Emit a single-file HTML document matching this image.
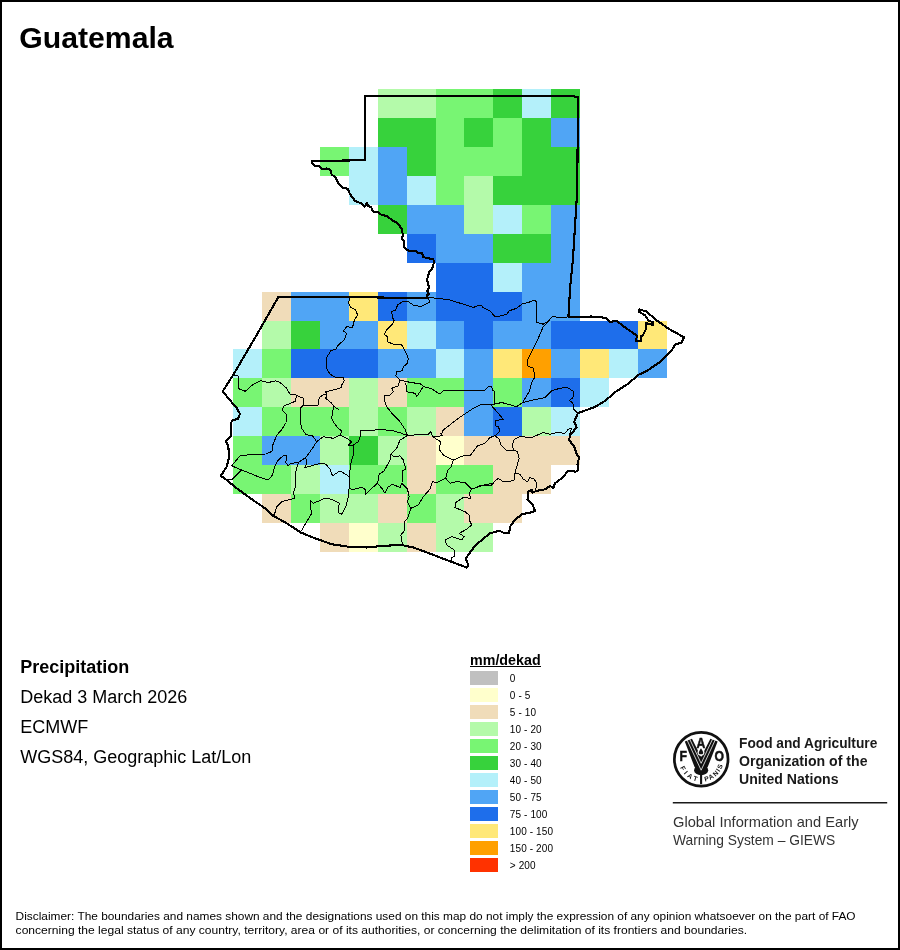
<!DOCTYPE html>
<html lang="en">
<head>
<meta charset="utf-8">
<title>Guatemala - Precipitation</title>
<style>
html,body{margin:0;padding:0;background:#fff;}
body{width:900px;height:950px;overflow:hidden;position:relative;font-family:"Liberation Sans",sans-serif;}
#frame{position:absolute;left:0;top:0;width:896px;height:946px;border:2px solid #000;}
svg{position:absolute;left:0;top:0;}
text{font-family:"Liberation Sans",sans-serif;}
</style>
</head>
<body>
<svg width="900" height="950" viewBox="0 0 900 950">
<g shape-rendering="crispEdges">
<rect x="378" y="89" width="58" height="29" fill="#B4FAAA"/>
<rect x="436" y="89" width="57" height="29" fill="#78F573"/>
<rect x="493" y="89" width="29" height="29" fill="#37D23C"/>
<rect x="522" y="89" width="29" height="29" fill="#B4F0FA"/>
<rect x="551" y="89" width="29" height="29" fill="#37D23C"/>
<rect x="378" y="118" width="58" height="29" fill="#37D23C"/>
<rect x="436" y="118" width="28" height="29" fill="#78F573"/>
<rect x="464" y="118" width="29" height="29" fill="#37D23C"/>
<rect x="493" y="118" width="29" height="29" fill="#78F573"/>
<rect x="522" y="118" width="29" height="29" fill="#37D23C"/>
<rect x="551" y="118" width="29" height="29" fill="#50A5F5"/>
<rect x="320" y="147" width="29" height="29" fill="#78F573"/>
<rect x="349" y="147" width="29" height="29" fill="#B4F0FA"/>
<rect x="378" y="147" width="29" height="29" fill="#50A5F5"/>
<rect x="407" y="147" width="29" height="29" fill="#37D23C"/>
<rect x="436" y="147" width="86" height="29" fill="#78F573"/>
<rect x="522" y="147" width="58" height="29" fill="#37D23C"/>
<rect x="349" y="176" width="29" height="29" fill="#B4F0FA"/>
<rect x="378" y="176" width="29" height="29" fill="#50A5F5"/>
<rect x="407" y="176" width="29" height="29" fill="#B4F0FA"/>
<rect x="436" y="176" width="28" height="29" fill="#78F573"/>
<rect x="464" y="176" width="29" height="29" fill="#B4FAAA"/>
<rect x="493" y="176" width="87" height="29" fill="#37D23C"/>
<rect x="378" y="205" width="29" height="29" fill="#37D23C"/>
<rect x="407" y="205" width="57" height="29" fill="#50A5F5"/>
<rect x="464" y="205" width="29" height="29" fill="#B4FAAA"/>
<rect x="493" y="205" width="29" height="29" fill="#B4F0FA"/>
<rect x="522" y="205" width="29" height="29" fill="#78F573"/>
<rect x="551" y="205" width="29" height="29" fill="#50A5F5"/>
<rect x="407" y="234" width="29" height="29" fill="#1E6EEB"/>
<rect x="436" y="234" width="57" height="29" fill="#50A5F5"/>
<rect x="493" y="234" width="58" height="29" fill="#37D23C"/>
<rect x="551" y="234" width="29" height="29" fill="#50A5F5"/>
<rect x="436" y="263" width="57" height="29" fill="#1E6EEB"/>
<rect x="493" y="263" width="29" height="29" fill="#B4F0FA"/>
<rect x="522" y="263" width="58" height="29" fill="#50A5F5"/>
<rect x="262" y="292" width="29" height="29" fill="#F0DCB9"/>
<rect x="291" y="292" width="58" height="29" fill="#50A5F5"/>
<rect x="349" y="292" width="29" height="29" fill="#FFE878"/>
<rect x="378" y="292" width="29" height="29" fill="#1E6EEB"/>
<rect x="407" y="292" width="29" height="29" fill="#50A5F5"/>
<rect x="436" y="292" width="86" height="29" fill="#1E6EEB"/>
<rect x="522" y="292" width="58" height="29" fill="#50A5F5"/>
<rect x="262" y="321" width="29" height="28" fill="#B4FAAA"/>
<rect x="291" y="321" width="29" height="28" fill="#37D23C"/>
<rect x="320" y="321" width="58" height="28" fill="#50A5F5"/>
<rect x="378" y="321" width="29" height="28" fill="#FFE878"/>
<rect x="407" y="321" width="29" height="28" fill="#B4F0FA"/>
<rect x="436" y="321" width="28" height="28" fill="#50A5F5"/>
<rect x="464" y="321" width="29" height="28" fill="#1E6EEB"/>
<rect x="493" y="321" width="58" height="28" fill="#50A5F5"/>
<rect x="551" y="321" width="87" height="28" fill="#1E6EEB"/>
<rect x="638" y="321" width="29" height="28" fill="#FFE878"/>
<rect x="233" y="349" width="29" height="29" fill="#B4F0FA"/>
<rect x="262" y="349" width="29" height="29" fill="#78F573"/>
<rect x="291" y="349" width="87" height="29" fill="#1E6EEB"/>
<rect x="378" y="349" width="58" height="29" fill="#50A5F5"/>
<rect x="436" y="349" width="28" height="29" fill="#B4F0FA"/>
<rect x="464" y="349" width="29" height="29" fill="#50A5F5"/>
<rect x="493" y="349" width="29" height="29" fill="#FFE878"/>
<rect x="522" y="349" width="29" height="29" fill="#FFA000"/>
<rect x="551" y="349" width="29" height="29" fill="#50A5F5"/>
<rect x="580" y="349" width="29" height="29" fill="#FFE878"/>
<rect x="609" y="349" width="29" height="29" fill="#B4F0FA"/>
<rect x="638" y="349" width="29" height="29" fill="#50A5F5"/>
<rect x="233" y="378" width="29" height="29" fill="#78F573"/>
<rect x="262" y="378" width="29" height="29" fill="#B4FAAA"/>
<rect x="291" y="378" width="58" height="29" fill="#F0DCB9"/>
<rect x="349" y="378" width="29" height="29" fill="#B4FAAA"/>
<rect x="378" y="378" width="29" height="29" fill="#F0DCB9"/>
<rect x="407" y="378" width="57" height="29" fill="#78F573"/>
<rect x="464" y="378" width="29" height="29" fill="#50A5F5"/>
<rect x="493" y="378" width="29" height="29" fill="#78F573"/>
<rect x="522" y="378" width="29" height="29" fill="#50A5F5"/>
<rect x="551" y="378" width="29" height="29" fill="#1E6EEB"/>
<rect x="580" y="378" width="29" height="29" fill="#B4F0FA"/>
<rect x="233" y="407" width="29" height="29" fill="#B4F0FA"/>
<rect x="262" y="407" width="87" height="29" fill="#78F573"/>
<rect x="349" y="407" width="29" height="29" fill="#B4FAAA"/>
<rect x="378" y="407" width="29" height="29" fill="#78F573"/>
<rect x="407" y="407" width="29" height="29" fill="#B4FAAA"/>
<rect x="436" y="407" width="28" height="29" fill="#F0DCB9"/>
<rect x="464" y="407" width="29" height="29" fill="#50A5F5"/>
<rect x="493" y="407" width="29" height="29" fill="#1E6EEB"/>
<rect x="522" y="407" width="29" height="29" fill="#B4FAAA"/>
<rect x="551" y="407" width="29" height="29" fill="#B4F0FA"/>
<rect x="233" y="436" width="29" height="29" fill="#78F573"/>
<rect x="262" y="436" width="58" height="29" fill="#50A5F5"/>
<rect x="320" y="436" width="29" height="29" fill="#B4FAAA"/>
<rect x="349" y="436" width="29" height="29" fill="#37D23C"/>
<rect x="378" y="436" width="29" height="29" fill="#B4FAAA"/>
<rect x="407" y="436" width="29" height="29" fill="#F0DCB9"/>
<rect x="436" y="436" width="28" height="29" fill="#FFFFCC"/>
<rect x="464" y="436" width="116" height="29" fill="#F0DCB9"/>
<rect x="233" y="465" width="58" height="29" fill="#78F573"/>
<rect x="291" y="465" width="29" height="29" fill="#B4FAAA"/>
<rect x="320" y="465" width="29" height="29" fill="#B4F0FA"/>
<rect x="349" y="465" width="58" height="29" fill="#78F573"/>
<rect x="407" y="465" width="29" height="29" fill="#F0DCB9"/>
<rect x="436" y="465" width="57" height="29" fill="#78F573"/>
<rect x="493" y="465" width="58" height="29" fill="#F0DCB9"/>
<rect x="262" y="494" width="29" height="29" fill="#F0DCB9"/>
<rect x="291" y="494" width="29" height="29" fill="#78F573"/>
<rect x="320" y="494" width="58" height="29" fill="#B4FAAA"/>
<rect x="378" y="494" width="29" height="29" fill="#F0DCB9"/>
<rect x="407" y="494" width="29" height="29" fill="#78F573"/>
<rect x="436" y="494" width="28" height="29" fill="#B4FAAA"/>
<rect x="464" y="494" width="58" height="29" fill="#F0DCB9"/>
<rect x="320" y="523" width="29" height="29" fill="#F0DCB9"/>
<rect x="349" y="523" width="29" height="29" fill="#FFFFCC"/>
<rect x="378" y="523" width="29" height="29" fill="#B4FAAA"/>
<rect x="407" y="523" width="29" height="29" fill="#F0DCB9"/>
<rect x="436" y="523" width="57" height="29" fill="#B4FAAA"/>
</g>
<g fill="none" stroke="#000" stroke-width="1" stroke-linejoin="round" stroke-linecap="round" shape-rendering="crispEdges">
<polyline points="427.5,297.5 438.3,298.3 450,300 463.3,304.2 473.3,307.5 477.5,305.8 481.7,305 482.5,307.5 490,310.8 495,316.7 501.7,315.8 506.7,314.2 509.2,310.8 516.7,308.3 521.7,304.2 528.3,302.5 534.2,300 536.7,301.7 536.7,322.5 543.3,324.2 548.5,321 552.4,316.5 560,317.5 568.4,316.9"/>
<polyline points="548.5,321 543.3,326.7 536.7,341.7 531.7,351.7 527.5,360 527.5,365.8 533.3,368.3 535,376.7 531.7,382.5 529.2,391.7 522.5,402.5 516.7,406.7"/>
<polyline points="522.5,402.5 533.3,400 545,397.5 551.6,390.7 557.8,388.9 566.7,387.1 573.8,391.6 572.9,397.8 569.3,400.4 572.9,403.1 573.8,409.3 577.3,412.9"/>
<polyline points="427.5,297.5 430,301.7 425.8,304.2 420.8,306.7 413.3,305 408.3,301.7 402.5,301.7 397.5,305 395.8,310 391.7,311.7 392.5,317.5 394.2,320.8 391.7,325 386.7,330 384.2,334.2 387.5,336.7 387.5,341.7 393.3,344.2 401.7,345 405,350.8 408.3,358.3 407.5,363.3 403.3,366.7 402.5,370.8 396.7,371.7 395.8,375.8 400,380"/>
<polyline points="400,380 398.3,385.8 391.7,388.3 393.3,391.7 389.2,395.8 385,395 384.2,400 386.7,406.7 393.3,415 400,421.7 405,429.2 407.5,435.8"/>
<polyline points="400,380 406.7,381.7 421.7,384.2 423.3,386.7 430.8,388.3 440,394.2 443.3,390.8 463.3,390.8 485,390 488.3,386.7 491.7,386.7 492.5,390 495,391.7 494.2,404.2 501.7,402.5 516.7,406.7"/>
<polyline points="405.8,383.3 406.7,391.7 415,393.3 416.7,396.7 423.3,386.7"/>
<polyline points="494.2,404.2 490.8,405 481.7,404.2 473.3,408.3 458.3,418.3 443.3,430 441.7,433.3"/>
<polyline points="491.7,405.8 503.3,419.2 495,420.8 495,425.8 498.3,426.7 500,430.8 495,435.8"/>
<polyline points="470,455.8 475.8,448.3 477.5,445.8 485,443.3 490,437.5 495,435.8 499.2,439.2 500.8,445 505.8,450 513.3,450 512.5,444.2 514.2,439.2 520,436.7 531.7,437.5 537.5,435 543.3,432.5 550,434.2 556.7,432.5 565,433.3 568.3,429.2 571.7,428.3 569.2,435"/>
<polyline points="513.3,450 517.5,451.7 519.2,458.3 516.7,466.7 515,473.3 514.2,480 508.3,481.7 503.3,481.7 498.3,478.3 492.5,483.3 480,485.8 471.7,489.2"/>
<polyline points="515,473.3 520,474.2 523.3,479.2 527.5,481.7 530,477.5 534.2,479.2 536.7,483.3 535.8,490"/>
<polyline points="360,431.7 361.7,430 371.7,430.8 378.3,429.2 393.3,430.8 401.7,433.3 407.5,435.8 420,434.2 428.3,434.2 430.8,431.7 432.5,436.7 442.5,435.8 440.8,433.3"/>
<polyline points="432.5,436.7 440.8,441.7 439.2,449.2 443.3,455 453.3,460 463.3,455.8 470,455.8"/>
<polyline points="453.3,460 450.8,467.5 447.5,470.8 445.8,478.3 440.8,480.8 436.7,482.5 432.5,481.7 430,489.2 423.3,496.7 418.3,505 410.8,508.3 407.5,518.3 404.2,521.7 405,530 400.8,535 402.5,545"/>
<polyline points="445.8,478.3 450,483.3 456.7,481.7 465,482.5 471.7,489.2 481.7,485.8 491.7,485 496.7,479.2 498.3,478.3"/>
<polyline points="471.7,489.2 469.2,493.3 470.8,498.3 463.3,497.5 455.8,502.5 455,507.5 465,511.7 470,515.8 469.2,520 471.7,525 466.7,529.2 459.2,533.3 464.2,536.7 461.7,540 451.7,536.7 445,540 446.7,545 454.2,550 455,555.8 451.7,557.5 451.7,561.7"/>
<polyline points="407.5,435.8 400,440 396.7,448.3 390.8,454.2 390,460 384.2,470.8 379.2,474.2 377.5,483.3 370.8,489.2 365.8,494.2 365,489.2 361.7,487.5 357.5,488.3 351.7,490 349.2,486.7"/>
<polyline points="377.5,483.3 382.5,489.2 385,493.3 387.5,487.5 392.5,484.2 400,487.5 401.7,483.3 407.5,489.2 409.2,496.7 407.5,501.7 410.8,508.3"/>
<polyline points="390.8,454.2 394.2,456.7 400,455.8 403.3,460 405.8,469.2 402.5,470.8 402.5,481.7"/>
<polyline points="231.7,465.8 240,455.8 253.3,454.2 266,454 272,451.3 272.7,445.3 276.7,435.3 282,429.3 286,422.7 286.7,414.7 282,410 284,406 295.3,401.3 296.7,395.3"/>
<polyline points="231.7,465.8 241.7,470 258.3,476.7 268.3,480 272.5,475 275,465.8 278.3,460 283.3,455.8 286.7,455.8 285.8,462.5 288.3,465.8 290.8,463.3 298.3,462.5 303.3,459.2 305.8,457.5 306.7,463.3 305,467.5 311.7,465.8 320,463.3 325.8,464.2 330,469.2 332.5,475.8 340,470.8 346.7,475 349.2,477.5"/>
<polyline points="241.7,470 232.5,479.2 227,480"/>
<polyline points="298.3,462.5 295,475 295.8,485 293.3,493.3 295,498.3 288.3,500 281.7,501.7 276.7,506.7 275,512.5 273.3,515.8"/>
<polyline points="305.8,457.5 312.7,448 316.7,441.7 323.3,436.7 333.3,438.3 340,435 342,431 338.3,428.3 334.2,423.3 331.7,418.3 332.5,411.7 334.2,406.7 331.7,403.3 325.8,398.3 326.7,395"/>
<polyline points="316.7,441.7 312.7,436 306,434.7 302,428.7 300.7,424 300,415 300,408.7 303.3,405.3"/>
<polyline points="340,435 346.7,438.3 351.7,441.7 348.3,445 353.3,445 358.3,441.7 360.8,435 360,431.7"/>
<polyline points="353.3,445 353.3,455 350.8,463.3 349.2,477.5 349.2,486.7 348.3,496.7 345.8,506.7 341.7,514.2 338.3,512.5 339.2,503.3 331.7,499.2 325,498.3 313.3,503.3 310.8,500.8 310,504.2 311.7,513.3 300.8,531.7"/>
<polyline points="350,298.3 348.3,302.5 350.8,307.5 355.8,310 357.5,315 354.2,320.8 352.5,327.5 346.7,326.7 343.3,330.8 346.7,333.3 344.2,340 338.3,345 335.8,349.2 330.8,350.8 326.7,357.5 326.7,368.3 330,374.2 335.8,377.5 343.3,377.5 344.2,380.8 341.7,385 341.7,387.5 333.3,390 325.8,391.7 326.7,395 324.2,394.2 319.2,397.5 318.3,405 303.7,405 303.3,398.3 295.8,395 290,394.2 286.7,388.3 280,382.5 275.8,380.8 268.3,382.5 260.7,380.7 252.7,384.7 245.3,391.3 238.7,388.7 238,376 233.3,374.7"/>
<polyline points="334.2,406.7 338.3,409.2"/>
</g>
<polygon points="365.2,96 567.4,95.8 577.9,96.8 577.3,189.5 576.4,204.2 572.9,260 570.2,286.7 568.4,316.9 580,317.2 591.6,316.5 605.8,317.8 610.2,321.9 616.4,320.8 625.3,327.6 636.9,335.6 636,340.9 641,340.9 641,336.4 643.1,334.7 645.8,329.3 645.8,323.1 652.9,324.9 652.9,322.2 648.4,320.4 644.9,315.1 638.7,311.6 639.6,309.4 646.7,311.6 655.6,319.6 668,328.4 684,337.3 681.3,342.7 675.1,344.4 671.6,350.7 660.9,361.3 646.7,371.1 638.7,374.7 627.1,384.4 614.7,392.4 605.8,400.4 595,407 578,413 574.2,421.7 576.7,427.5 570,435 569.2,440 574.2,446.7 576.7,454.2 579.2,457.5 577.5,464.2 578.3,470 575.8,471.7 568.3,470.8 561.7,478.3 555,483.3 553.3,488.3 550,485.8 545.8,489.2 536.7,490.8 532.5,492.5 531.7,490 528.3,491.7 527.5,500 532.5,504.2 535,510.8 530.8,512.5 521.7,514.2 514.2,520.8 510,526.7 509.2,533.3 505,533.3 499.2,530.8 490,533.3 481.7,540 475,545.8 470,552.5 465.8,558.3 468.3,565 466.7,567.5 453.3,562.5 440,557.5 425,551.7 413.3,547.5 401.7,545 383.3,545.8 366.7,547.5 348.3,546.7 331.7,544.2 315,538.3 300.8,532.5 286.7,523.3 273.3,515.8 265,508.3 251.7,499.2 236.7,488.3 226.7,480 220.8,475.8 226.7,466.7 229.2,456.7 228.3,446.7 225.8,440.8 230.8,435.8 230.7,424 232,420.7 238,418.7 240,414 236.7,408 228.7,398.7 222.7,391.3 233.3,374.7 242,360 260,329.2 278.3,297 350,297 410,298 427.2,297.8 426.7,295.6 428.9,293.9 427.2,291.1 429.4,287.2 427.8,284.4 427.2,278.9 428.3,275.6 429.4,271.1 432.2,268.9 433.3,264.4 434.4,262.8 433.3,259.4 428.9,258.3 423.3,257.2 422.2,253.3 418.9,253.3 415.6,251.1 410,251.1 406.7,250 403.9,246.7 403.9,241.1 402.2,238.9 402.8,234.4 401.7,228.9 397.8,223.3 391.7,220 387.1,216 381.8,215.1 378.2,212.4 372.9,211.5 371.1,207.1 368.4,206.2 366.7,202.7 364.9,206.6 361.3,203.5 355.1,200.9 349.8,193.8 348,188.8 342.7,187.5 338.2,183.1 335.5,177.8 331.6,174.2 330.2,169.8 326.7,168.4 322.2,169.4 319.5,166.2 315,166.2 312.4,163.5 312.4,160.9 355.1,160.4 365,160" fill="none" stroke="#000" stroke-width="2.1" stroke-linejoin="round" shape-rendering="crispEdges"/>
<text x="19.3" y="47.6" font-size="30.2" font-weight="bold" fill="#000">Guatemala</text>
<text x="20.2" y="672.8" font-size="18" font-weight="bold" fill="#000">Precipitation</text>
<text x="20.2" y="702.8" font-size="18" fill="#000">Dekad 3 March 2026</text>
<text x="20.2" y="732.8" font-size="18" fill="#000">ECMWF</text>
<text x="20.2" y="762.8" font-size="18" fill="#000">WGS84, Geographic Lat/Lon</text>
<text x="470" y="664.7" font-size="14" font-weight="bold" fill="#000" textLength="70.6" lengthAdjust="spacingAndGlyphs">mm/dekad</text>
<rect x="470" y="666" width="71" height="1" fill="#000" shape-rendering="crispEdges"/>
<g shape-rendering="crispEdges">
<rect x="470" y="671" width="28" height="14" fill="#C0C0C0"/>
<rect x="470" y="688" width="28" height="14" fill="#FFFFCC"/>
<rect x="470" y="705" width="28" height="14" fill="#F0DCB9"/>
<rect x="470" y="722" width="28" height="14" fill="#B4FAAA"/>
<rect x="470" y="739" width="28" height="14" fill="#78F573"/>
<rect x="470" y="756" width="28" height="14" fill="#37D23C"/>
<rect x="470" y="773" width="28" height="14" fill="#B4F0FA"/>
<rect x="470" y="790" width="28" height="14" fill="#50A5F5"/>
<rect x="470" y="807" width="28" height="14" fill="#1E6EEB"/>
<rect x="470" y="824" width="28" height="14" fill="#FFE878"/>
<rect x="470" y="841" width="28" height="14" fill="#FFA000"/>
<rect x="470" y="858" width="28" height="14" fill="#FF3200"/>
</g>
<g font-size="10" fill="#000" letter-spacing="0.12">
<text x="509.8" y="681.7">0</text>
<text x="509.8" y="698.7">0 - 5</text>
<text x="509.8" y="715.7">5 - 10</text>
<text x="509.8" y="732.7">10 - 20</text>
<text x="509.8" y="749.7">20 - 30</text>
<text x="509.8" y="766.7">30 - 40</text>
<text x="509.8" y="783.7">40 - 50</text>
<text x="509.8" y="800.7">50 - 75</text>
<text x="509.8" y="817.7">75 - 100</text>
<text x="509.8" y="834.7">100 - 150</text>
<text x="509.8" y="851.7">150 - 200</text>
<text x="509.8" y="868.7">&gt; 200</text>
</g>
<g id="fao" transform="translate(668,726) scale(0.077778)" fill="#111">
<circle cx="427" cy="427" r="345" fill="#fff" stroke="#111" stroke-width="35"/>
<g font-weight="bold" font-size="196" stroke="#111" stroke-width="7" text-anchor="middle">
<text transform="translate(196,445) scale(0.8,1)">F</text>
<text transform="translate(423,280) scale(0.8,1)">A</text>
<text transform="translate(660,445) scale(0.8,1)">O</text></g>
<path d="M216 198 L308 163 L426 400 L545 163 L638 198 L512 525 L426 640 L340 525 Z"/>
<ellipse cx="426" cy="568" rx="91" ry="65"/>
<rect x="412" y="600" width="27" height="148"/>
<g fill="none" stroke="#fff" stroke-width="10" stroke-linejoin="miter">
<polyline points="243,176 426,568 609,176"/>
<polyline points="277,164 426,480 575,164"/>
</g>
<ellipse cx="424" cy="338" rx="44" ry="46" fill="#fff"/>
<path d="M424 285 Q458 335 452 352 Q444 364 424 364 Q404 364 396 352 Q390 335 424 285 Z"/>
<path id="arcL" d="M154.3 534.4 A292 292 0 0 0 374.3 712.6" fill="none"/>
<path id="arcR" d="M475.7 712.6 A292 292 0 0 0 707.1 500.6" fill="none"/>
<text font-size="86" font-weight="bold" textLength="290"><textPath href="#arcL">FIAT</textPath></text>
<text font-size="86" font-weight="bold" textLength="325"><textPath href="#arcR">PANIS</textPath></text>
</g>
<g font-weight="bold" font-size="14" fill="#1a1a1a">
<text x="739" y="748" textLength="138.3" lengthAdjust="spacingAndGlyphs">Food and Agriculture</text>
<text x="739" y="765.8" textLength="128.5" lengthAdjust="spacingAndGlyphs">Organization of the</text>
<text x="739" y="783.5" textLength="99.5" lengthAdjust="spacingAndGlyphs">United Nations</text>
</g>
<rect x="672.8" y="802" width="214.4" height="1.5" fill="#1a1a1a"/>
<g font-size="14.2" fill="#333">
<text x="673" y="826.7" textLength="185.6" lengthAdjust="spacingAndGlyphs">Global Information and Early</text>
<text x="673" y="845.3" textLength="162.3" lengthAdjust="spacingAndGlyphs">Warning System – GIEWS</text>
</g>
<g font-size="10.8" fill="#000">
<text x="15.6" y="919.6" textLength="840" lengthAdjust="spacingAndGlyphs">Disclaimer: The boundaries and names shown and the designations used on this map do not imply the expression of any opinion whatsoever on the part of FAO</text>
<text x="15.6" y="933.5" textLength="731.5" lengthAdjust="spacingAndGlyphs">concerning the legal status of any country, territory, area or of its authorities, or concerning the delimitation of its frontiers and boundaries.</text>
</g>
</svg>
<div id="frame"></div>
</body>
</html>
